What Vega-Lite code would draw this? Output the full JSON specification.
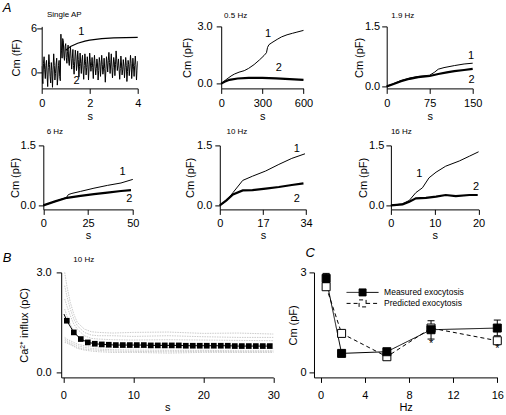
{
"$schema": "https://vega.github.io/schema/vega-lite/v6.json",
"padding": {"left": 2.7, "top": 1.4, "right": 0, "bottom": 0},
"background": "white",
"datasets": {
"a1": [
{"tr":2,"x":0.000,"y":0.8},{"tr":2,"x":0.025,"y":-0.9},{"tr":2,"x":0.050,"y":-1.6},{"tr":2,"x":0.075,"y":1.2},{"tr":2,"x":0.100,"y":2.1},{"tr":2,"x":0.125,"y":0.3},{"tr":2,"x":0.150,"y":-0.9},{"tr":2,"x":0.175,"y":0.9},{"tr":2,"x":0.200,"y":1.6},{"tr":2,"x":0.225,"y":-0.4},{"tr":2,"x":0.250,"y":-2.0},{"tr":2,"x":0.275,"y":0.6},{"tr":2,"x":0.300,"y":2.4},{"tr":2,"x":0.325,"y":1.0},{"tr":2,"x":0.350,"y":-0.6},{"tr":2,"x":0.375,"y":-1.5},{"tr":2,"x":0.400,"y":1.3},{"tr":2,"x":0.425,"y":0.2},{"tr":2,"x":0.450,"y":-2.1},{"tr":2,"x":0.475,"y":0.4},{"tr":2,"x":0.500,"y":2.5},{"tr":2,"x":0.525,"y":0.9},{"tr":2,"x":0.550,"y":-1.1},{"tr":2,"x":0.575,"y":-0.2},{"tr":2,"x":0.600,"y":1.1},{"tr":2,"x":0.625,"y":1.9},{"tr":2,"x":0.650,"y":-1.8},{"tr":2,"x":0.675,"y":-0.7},{"tr":2,"x":0.700,"y":0.9},{"tr":2,"x":0.725,"y":1.6},{"tr":2,"x":0.750,"y":-0.6},{"tr":2,"x":0.775,"y":-1.2},
{"tr":2,"x":0.800,"y":5.2},{"tr":2,"x":0.825,"y":3.0},{"tr":2,"x":0.850,"y":1.9},{"tr":2,"x":0.875,"y":4.6},{"tr":2,"x":0.900,"y":4.3},{"tr":2,"x":0.925,"y":2.2},{"tr":2,"x":0.950,"y":1.6},{"tr":2,"x":0.975,"y":3.5},{"tr":2,"x":1.000,"y":3.9},{"tr":2,"x":1.025,"y":2.0},{"tr":2,"x":1.050,"y":1.2},{"tr":2,"x":1.075,"y":2.8},{"tr":2,"x":1.100,"y":3.7},{"tr":2,"x":1.125,"y":1.5},{"tr":2,"x":1.150,"y":0.9},{"tr":2,"x":1.175,"y":2.6},{"tr":2,"x":1.200,"y":3.4},{"tr":2,"x":1.225,"y":1.8},{"tr":2,"x":1.250,"y":0.4},{"tr":2,"x":1.275,"y":1.9},{"tr":2,"x":1.300,"y":3.1},{"tr":2,"x":1.325,"y":0.9},{"tr":2,"x":1.350,"y":-0.3},{"tr":2,"x":1.375,"y":1.4},{"tr":2,"x":1.400,"y":3.0},{"tr":2,"x":1.425,"y":2.2},{"tr":2,"x":1.450,"y":0.2},{"tr":2,"x":1.475,"y":1.0},{"tr":2,"x":1.500,"y":2.9},{"tr":2,"x":1.525,"y":1.7},{"tr":2,"x":1.550,"y":-0.7},{"tr":2,"x":1.575,"y":0.8},{"tr":2,"x":1.600,"y":2.6},{"tr":2,"x":1.625,"y":1.2},{"tr":2,"x":1.650,"y":-0.2},{"tr":2,"x":1.675,"y":1.5},{"tr":2,"x":1.700,"y":2.3},{"tr":2,"x":1.725,"y":0.4},{"tr":2,"x":1.750,"y":-1.0},{"tr":2,"x":1.775,"y":0.9},{"tr":2,"x":1.800,"y":2.5},{"tr":2,"x":1.825,"y":1.4},{"tr":2,"x":1.850,"y":-0.4},{"tr":2,"x":1.875,"y":0.6},{"tr":2,"x":1.900,"y":2.1},{"tr":2,"x":1.925,"y":1.0},{"tr":2,"x":1.950,"y":-1.1},{"tr":2,"x":1.975,"y":0.7},
{"tr":2,"x":2.000,"y":2.6},{"tr":2,"x":2.025,"y":1.5},{"tr":2,"x":2.050,"y":0.1},{"tr":2,"x":2.075,"y":0.9},{"tr":2,"x":2.100,"y":2.0},{"tr":2,"x":2.125,"y":0.6},{"tr":2,"x":2.150,"y":-0.9},{"tr":2,"x":2.175,"y":1.2},{"tr":2,"x":2.200,"y":2.3},{"tr":2,"x":2.225,"y":0.8},{"tr":2,"x":2.250,"y":-0.4},{"tr":2,"x":2.275,"y":0.5},{"tr":2,"x":2.300,"y":1.8},{"tr":2,"x":2.325,"y":1.1},{"tr":2,"x":2.350,"y":-1.1},{"tr":2,"x":2.375,"y":0.2},{"tr":2,"x":2.400,"y":2.0},{"tr":2,"x":2.425,"y":1.3},{"tr":2,"x":2.450,"y":-0.6},{"tr":2,"x":2.475,"y":0.8},{"tr":2,"x":2.500,"y":2.3},{"tr":2,"x":2.525,"y":1.0},{"tr":2,"x":2.550,"y":-0.3},{"tr":2,"x":2.575,"y":0.4},{"tr":2,"x":2.600,"y":1.9},{"tr":2,"x":2.625,"y":0.5},{"tr":2,"x":2.650,"y":-1.4},{"tr":2,"x":2.675,"y":0.3},{"tr":2,"x":2.700,"y":2.1},{"tr":2,"x":2.725,"y":1.2},{"tr":2,"x":2.750,"y":0.0},{"tr":2,"x":2.775,"y":1.6},{"tr":2,"x":2.800,"y":2.7},{"tr":2,"x":2.825,"y":1.3},{"tr":2,"x":2.850,"y":-0.2},{"tr":2,"x":2.875,"y":1.1},{"tr":2,"x":2.900,"y":2.5},{"tr":2,"x":2.925,"y":0.7},{"tr":2,"x":2.950,"y":-0.8},{"tr":2,"x":2.975,"y":0.6},
{"tr":2,"x":3.000,"y":2.0},{"tr":2,"x":3.025,"y":1.4},{"tr":2,"x":3.050,"y":-0.5},{"tr":2,"x":3.075,"y":1.0},{"tr":2,"x":3.100,"y":2.9},{"tr":2,"x":3.125,"y":1.8},{"tr":2,"x":3.150,"y":0.2},{"tr":2,"x":3.175,"y":0.9},{"tr":2,"x":3.200,"y":1.8},{"tr":2,"x":3.225,"y":0.4},{"tr":2,"x":3.250,"y":-1.0},{"tr":2,"x":3.275,"y":0.5},{"tr":2,"x":3.300,"y":2.2},{"tr":2,"x":3.325,"y":1.1},{"tr":2,"x":3.350,"y":-0.4},{"tr":2,"x":3.375,"y":0.3},{"tr":2,"x":3.400,"y":1.7},{"tr":2,"x":3.425,"y":0.8},{"tr":2,"x":3.450,"y":-0.8},{"tr":2,"x":3.475,"y":0.6},{"tr":2,"x":3.500,"y":2.0},{"tr":2,"x":3.525,"y":0.9},{"tr":2,"x":3.550,"y":-1.3},{"tr":2,"x":3.575,"y":0.1},{"tr":2,"x":3.600,"y":1.6},{"tr":2,"x":3.625,"y":1.0},{"tr":2,"x":3.650,"y":-0.5},{"tr":2,"x":3.675,"y":0.7},{"tr":2,"x":3.700,"y":2.3},{"tr":2,"x":3.725,"y":1.2},{"tr":2,"x":3.750,"y":-0.9},{"tr":2,"x":3.775,"y":0.4},{"tr":2,"x":3.800,"y":1.9},{"tr":2,"x":3.825,"y":0.8},{"tr":2,"x":3.850,"y":-0.6},{"tr":2,"x":3.875,"y":0.9},{"tr":2,"x":3.900,"y":2.2},{"tr":2,"x":3.925,"y":1.0},{"tr":2,"x":3.950,"y":-1.1},{"tr":2,"x":3.975,"y":0.2},{"tr":2,"x":4.000,"y":1.5},
{"tr":1,"x":1.0,"y":3.0},{"tr":1,"x":1.2,"y":3.5},{"tr":1,"x":1.5,"y":3.95},{"tr":1,"x":1.8,"y":4.25},{"tr":1,"x":2.0,"y":4.38},{"tr":1,"x":2.5,"y":4.58},{"tr":1,"x":3.0,"y":4.68},{"tr":1,"x":3.5,"y":4.73},{"tr":1,"x":4.0,"y":4.75}
],
"a2": [
{"tr":1,"x":0,"y":0},{"tr":1,"x":36,"y":0.21},{"tr":1,"x":72,"y":0.4},{"tr":1,"x":96,"y":0.5},{"tr":1,"x":130,"y":0.6},{"tr":1,"x":168,"y":0.68},{"tr":1,"x":200,"y":0.8},{"tr":1,"x":240,"y":1.0},{"tr":1,"x":280,"y":1.25},{"tr":1,"x":312,"y":1.47},{"tr":1,"x":330,"y":1.62},{"tr":1,"x":338,"y":1.9},{"tr":1,"x":348,"y":2.04},{"tr":1,"x":370,"y":2.15},{"tr":1,"x":408,"y":2.32},{"tr":1,"x":440,"y":2.45},{"tr":1,"x":480,"y":2.56},{"tr":1,"x":520,"y":2.64},{"tr":1,"x":552,"y":2.7},{"tr":1,"x":600,"y":2.79},
{"tr":2,"x":0,"y":0},{"tr":2,"x":24,"y":0.1},{"tr":2,"x":60,"y":0.2},{"tr":2,"x":120,"y":0.27},{"tr":2,"x":200,"y":0.3},{"tr":2,"x":300,"y":0.3},{"tr":2,"x":400,"y":0.28},{"tr":2,"x":500,"y":0.24},{"tr":2,"x":600,"y":0.2}
],
"a3": [
{"tr":1,"x":0,"y":0},{"tr":1,"x":12,"y":0.07},{"tr":1,"x":25,"y":0.15},{"tr":1,"x":40,"y":0.21},{"tr":1,"x":55,"y":0.25},{"tr":1,"x":75,"y":0.28},{"tr":1,"x":83,"y":0.35},{"tr":1,"x":90,"y":0.43},{"tr":1,"x":100,"y":0.47},{"tr":1,"x":118,"y":0.52},{"tr":1,"x":135,"y":0.56},{"tr":1,"x":150,"y":0.58},
{"tr":2,"x":0,"y":0},{"tr":2,"x":12,"y":0.06},{"tr":2,"x":25,"y":0.13},{"tr":2,"x":40,"y":0.19},{"tr":2,"x":55,"y":0.23},{"tr":2,"x":75,"y":0.26},{"tr":2,"x":90,"y":0.31},{"tr":2,"x":105,"y":0.35},{"tr":2,"x":118,"y":0.38},{"tr":2,"x":135,"y":0.41},{"tr":2,"x":150,"y":0.44}
],
"a4": [
{"tr":1,"x":0,"y":0},{"tr":1,"x":6.6,"y":0.1},{"tr":1,"x":13,"y":0.2},{"tr":1,"x":14,"y":0.27},{"tr":1,"x":16,"y":0.3},{"tr":1,"x":20.8,"y":0.35},{"tr":1,"x":28.3,"y":0.43},{"tr":1,"x":35.8,"y":0.5},{"tr":1,"x":43.4,"y":0.56},{"tr":1,"x":50,"y":0.65},
{"tr":2,"x":0,"y":0},{"tr":2,"x":6.6,"y":0.1},{"tr":2,"x":13.2,"y":0.19},{"tr":2,"x":20.8,"y":0.24},{"tr":2,"x":28.3,"y":0.28},{"tr":2,"x":35.8,"y":0.32},{"tr":2,"x":43.4,"y":0.36},{"tr":2,"x":49,"y":0.38}
],
"a5": [
{"tr":1,"x":0,"y":0},{"tr":1,"x":2.6,"y":0.11},{"tr":1,"x":5.2,"y":0.32},{"tr":1,"x":9.05,"y":0.625},{"tr":1,"x":12.9,"y":0.73},{"tr":1,"x":18.1,"y":0.86},{"tr":1,"x":23.3,"y":1.025},{"tr":1,"x":28.4,"y":1.175},{"tr":1,"x":33.6,"y":1.29},
{"tr":2,"x":0,"y":0},{"tr":2,"x":2.6,"y":0.125},{"tr":2,"x":5.2,"y":0.275},{"tr":2,"x":9.05,"y":0.375},{"tr":2,"x":12.9,"y":0.38},{"tr":2,"x":18.1,"y":0.42},{"tr":2,"x":23.3,"y":0.46},{"tr":2,"x":28.4,"y":0.51},{"tr":2,"x":33,"y":0.55}
],
"a6": [
{"tr":1,"x":0,"y":0},{"tr":1,"x":2.66,"y":0.04},{"tr":1,"x":4.2,"y":0.125},{"tr":1,"x":5.7,"y":0.32},{"tr":1,"x":7.2,"y":0.44},{"tr":1,"x":8.7,"y":0.69},{"tr":1,"x":10.3,"y":0.83},{"tr":1,"x":12.5,"y":0.98},{"tr":1,"x":15.6,"y":1.11},{"tr":1,"x":17.9,"y":1.23},{"tr":1,"x":20,"y":1.34},
{"tr":2,"x":0,"y":0},{"tr":2,"x":2.66,"y":0.025},{"tr":2,"x":4.2,"y":0.09},{"tr":2,"x":5.7,"y":0.175},{"tr":2,"x":8,"y":0.19},{"tr":2,"x":10.3,"y":0.22},{"tr":2,"x":12.5,"y":0.26},{"tr":2,"x":14.8,"y":0.23},{"tr":2,"x":17.9,"y":0.26},{"tr":2,"x":19.8,"y":0.26}
],
"lbl": [
{"p":"a1","x":1.65,"y":5.5,"t":"1"},{"p":"a1","x":1.45,"y":-1.2,"t":"2"},
{"p":"a2","x":341,"y":2.62,"t":"1"},{"p":"a2","x":420,"y":0.82,"t":"2"},
{"p":"a3","x":147,"y":0.77,"t":"1"},{"p":"a3","x":148,"y":0.17,"t":"2"},
{"p":"a4","x":44.3,"y":0.84,"t":"1"},{"p":"a4","x":48,"y":0.15,"t":"2"},
{"p":"a5","x":30.4,"y":1.42,"t":"1"},{"p":"a5","x":30.4,"y":0.15,"t":"2"},
{"p":"a6","x":6.5,"y":0.78,"t":"1"},{"p":"a6","x":19.4,"y":0.46,"t":"2"}
],
"bg": [
{"id":1,"x":0.2,"y":3.0},{"id":1,"x":0.5,"y":2.6},{"id":1,"x":1,"y":2.1},{"id":1,"x":1.5,"y":1.75},{"id":1,"x":2,"y":1.5},{"id":1,"x":3,"y":1.3},{"id":1,"x":4,"y":1.22},{"id":1,"x":5,"y":1.2},{"id":1,"x":7,"y":1.18},{"id":1,"x":10,"y":1.2},{"id":1,"x":15,"y":1.21},{"id":1,"x":20,"y":1.17},{"id":1,"x":25,"y":1.18},{"id":1,"x":30,"y":1.15},
{"id":2,"x":0.2,"y":2.6},{"id":2,"x":0.5,"y":2.3},{"id":2,"x":1,"y":1.9},{"id":2,"x":1.5,"y":1.6},{"id":2,"x":2,"y":1.4},{"id":2,"x":3,"y":1.2},{"id":2,"x":4,"y":1.12},{"id":2,"x":5,"y":1.1},{"id":2,"x":7,"y":1.1},{"id":2,"x":10,"y":1.08},{"id":2,"x":15,"y":1.1},{"id":2,"x":20,"y":1.07},{"id":2,"x":25,"y":1.05},{"id":2,"x":30,"y":1.05},
{"id":3,"x":0.2,"y":2.2},{"id":3,"x":0.5,"y":2.0},{"id":3,"x":1,"y":1.7},{"id":3,"x":1.5,"y":1.45},{"id":3,"x":2,"y":1.3},{"id":3,"x":3,"y":1.1},{"id":3,"x":4,"y":1.02},{"id":3,"x":5,"y":1.0},{"id":3,"x":7,"y":0.98},{"id":3,"x":10,"y":0.97},{"id":3,"x":15,"y":0.98},{"id":3,"x":20,"y":0.97},{"id":3,"x":25,"y":0.96},{"id":3,"x":30,"y":0.95},
{"id":4,"x":0.2,"y":1.9},{"id":4,"x":0.5,"y":1.7},{"id":4,"x":1,"y":1.45},{"id":4,"x":1.5,"y":1.25},{"id":4,"x":2,"y":1.1},{"id":4,"x":3,"y":0.95},{"id":4,"x":4,"y":0.9},{"id":4,"x":5,"y":0.88},{"id":4,"x":7,"y":0.86},{"id":4,"x":10,"y":0.86},{"id":4,"x":15,"y":0.85},{"id":4,"x":20,"y":0.85},{"id":4,"x":25,"y":0.84},{"id":4,"x":30,"y":0.84},
{"id":5,"x":0.2,"y":1.05},{"id":5,"x":0.5,"y":1.0},{"id":5,"x":1,"y":0.95},{"id":5,"x":1.5,"y":0.9},{"id":5,"x":2,"y":0.85},{"id":5,"x":3,"y":0.8},{"id":5,"x":4,"y":0.78},{"id":5,"x":5,"y":0.76},{"id":5,"x":7,"y":0.75},{"id":5,"x":10,"y":0.74},{"id":5,"x":15,"y":0.74},{"id":5,"x":20,"y":0.73},{"id":5,"x":25,"y":0.73},{"id":5,"x":30,"y":0.72},
{"id":6,"x":0.2,"y":1.0},{"id":6,"x":0.5,"y":0.95},{"id":6,"x":1,"y":0.9},{"id":6,"x":1.5,"y":0.85},{"id":6,"x":2,"y":0.8},{"id":6,"x":3,"y":0.75},{"id":6,"x":4,"y":0.72},{"id":6,"x":5,"y":0.7},{"id":6,"x":7,"y":0.68},{"id":6,"x":10,"y":0.67},{"id":6,"x":15,"y":0.66},{"id":6,"x":20,"y":0.66},{"id":6,"x":25,"y":0.65},{"id":6,"x":30,"y":0.65},
{"id":7,"x":0.2,"y":0.9},{"id":7,"x":0.5,"y":0.88},{"id":7,"x":1,"y":0.83},{"id":7,"x":1.5,"y":0.78},{"id":7,"x":2,"y":0.72},{"id":7,"x":3,"y":0.67},{"id":7,"x":4,"y":0.64},{"id":7,"x":5,"y":0.62},{"id":7,"x":7,"y":0.6},{"id":7,"x":10,"y":0.6},{"id":7,"x":15,"y":0.58},{"id":7,"x":20,"y":0.6},{"id":7,"x":25,"y":0.6},{"id":7,"x":30,"y":0.6},
{"id":8,"x":0.2,"y":0.95},{"id":8,"x":0.5,"y":0.92},{"id":8,"x":1,"y":0.86},{"id":8,"x":1.5,"y":0.8},{"id":8,"x":2,"y":0.75},{"id":8,"x":3,"y":0.7},{"id":8,"x":4,"y":0.68},{"id":8,"x":5,"y":0.66},{"id":8,"x":7,"y":0.64},{"id":8,"x":10,"y":0.63},{"id":8,"x":15,"y":0.62},{"id":8,"x":20,"y":0.63},{"id":8,"x":25,"y":0.62},{"id":8,"x":30,"y":0.62}
],
"bm": [
{"x":0.1,"y":1.75},{"x":0.5,"y":1.55},{"x":1.5,"y":1.2},{"x":2.5,"y":1.0},{"x":3.5,"y":0.9},{"x":4.5,"y":0.86},{"x":5.5,"y":0.84},{"x":6.5,"y":0.83},{"x":7.5,"y":0.82},{"x":8.5,"y":0.82},{"x":9.5,"y":0.82},{"x":10.5,"y":0.82},{"x":11.5,"y":0.82},{"x":12.5,"y":0.81},{"x":13.5,"y":0.81},{"x":14.5,"y":0.81},{"x":15.5,"y":0.81},{"x":16.5,"y":0.81},{"x":17.5,"y":0.8},{"x":18.5,"y":0.8},{"x":19.5,"y":0.8},{"x":20.5,"y":0.8},{"x":21.5,"y":0.8},{"x":22.5,"y":0.8},{"x":23.5,"y":0.8},{"x":24.5,"y":0.79},{"x":25.5,"y":0.79},{"x":26.5,"y":0.79},{"x":27.5,"y":0.79},{"x":28.5,"y":0.79},{"x":29.5,"y":0.79}
],
"cm": [
{"s":"Predicted exocytosis","hz":0.5,"y":2.57},{"s":"Predicted exocytosis","hz":1.9,"y":1.17},{"s":"Predicted exocytosis","hz":6,"y":0.47},{"s":"Predicted exocytosis","hz":10,"y":1.33},{"s":"Predicted exocytosis","hz":16,"y":0.95},
{"s":"Measured exocytosis","hz":0.5,"y":2.82},{"s":"Measured exocytosis","hz":1.9,"y":0.57},{"s":"Measured exocytosis","hz":6,"y":0.62},{"s":"Measured exocytosis","hz":10,"y":1.28},{"s":"Measured exocytosis","hz":16,"y":1.33}
],
"cerr": [
{"hz":0.5,"lo":2.7,"hi":2.97},{"hz":6,"lo":0.55,"hi":0.7},{"hz":10,"lo":1.0,"hi":1.55},{"hz":16,"lo":1.1,"hi":1.57}
],
"cstar": [
{"hz":10,"y":0.84,"t":"*"},{"hz":16,"y":0.7,"t":"*"}
]
},
"resolve": {"scale": {"fill": "independent", "strokeDash": "independent"}, "legend": {"fill": "independent", "strokeDash": "independent"}},
"columns": 1,
"align": "none",
"concat": [
{
"title": {"text": "A", "fontSize": 13, "fontStyle": "italic", "anchor": "start", "frame": "group", "offset": -4, "dx": -39},
"spacing": 39.5,
"hconcat": [
{"width": 96, "height": 62, "title": {"text": "Single AP", "dx": 5.3, "offset": 3.1},
"layer": [
{"data": {"name": "a1"}, "transform": [{"filter": "datum.tr == 2"}], "mark": {"type": "line", "color": "black", "strokeWidth": 1, "clip": true},
"encoding": {"x": {"field": "x", "type": "quantitative", "scale": {"domain": [0, 4], "nice": false, "zero": false}, "axis": {"values": [0, 1, 2, 3, 4], "title": "s", "labelPadding": 4, "titlePadding": 2}},
"y": {"field": "y", "type": "quantitative", "scale": {"domain": [-2.25, 6.27], "nice": false, "zero": false}, "axis": {"values": [0, 3, 6], "title": "Cm (fF)", "labelPadding": 0, "titlePadding": 8.6}}}},
{"data": {"name": "a1"}, "transform": [{"filter": "datum.tr == 1"}], "mark": {"type": "line", "color": "black", "strokeWidth": 1.2},
"encoding": {"x": {"field": "x", "type": "quantitative"}, "y": {"field": "y", "type": "quantitative"}}},
{"data": {"name": "lbl"}, "transform": [{"filter": "datum.p == 'a1'"}], "mark": {"type": "text", "fontSize": 11, "font": "Liberation Sans"},
"encoding": {"x": {"field": "x", "type": "quantitative"}, "y": {"field": "y", "type": "quantitative"}, "text": {"field": "t"}}}
]},
{"width": 82.3, "height": 62, "title": {"text": "0.5 Hz", "dx": 2.9, "offset": 0.5},
"layer": [
{"data": {"name": "a2"}, "transform": [{"filter": "datum.tr == 1"}], "mark": {"type": "line", "color": "black", "strokeWidth": 1},
"encoding": {"x": {"field": "x", "type": "quantitative", "scale": {"domain": [0, 600], "nice": false, "zero": false}, "axis": {"values": [0, 300, 600], "title": "s", "labelPadding": 4, "titlePadding": 2}},
"y": {"field": "y", "type": "quantitative", "scale": {"domain": [-0.25, 3], "nice": false, "zero": false}, "axis": {"values": [0, 1, 2, 3], "format": ".1f", "title": "Cm (pF)", "labelPadding": 4, "titlePadding": 4}}}},
{"data": {"name": "a2"}, "transform": [{"filter": "datum.tr == 2"}], "mark": {"type": "line", "color": "black", "strokeWidth": 2.2},
"encoding": {"x": {"field": "x", "type": "quantitative"}, "y": {"field": "y", "type": "quantitative"}}},
{"data": {"name": "lbl"}, "transform": [{"filter": "datum.p == 'a2'"}], "mark": {"type": "text", "fontSize": 11, "font": "Liberation Sans"},
"encoding": {"x": {"field": "x", "type": "quantitative"}, "y": {"field": "y", "type": "quantitative"}, "text": {"field": "t"}}}
]},
{"width": 86, "height": 62, "title": {"text": "1.9 Hz", "dx": 4.6, "offset": 0.5},
"layer": [
{"data": {"name": "a3"}, "transform": [{"filter": "datum.tr == 1"}], "mark": {"type": "line", "color": "black", "strokeWidth": 1},
"encoding": {"x": {"field": "x", "type": "quantitative", "scale": {"domain": [0, 150], "nice": false, "zero": false}, "axis": {"values": [0, 75, 150], "title": "s", "labelPadding": 4, "titlePadding": 2}},
"y": {"field": "y", "type": "quantitative", "scale": {"domain": [-0.05, 1.5], "nice": false, "zero": false}, "axis": {"values": [0, 0.5, 1, 1.5], "format": ".1f", "title": "Cm (pF)", "labelPadding": 2, "titlePadding": 0}}}},
{"data": {"name": "a3"}, "transform": [{"filter": "datum.tr == 2"}], "mark": {"type": "line", "color": "black", "strokeWidth": 2.2},
"encoding": {"x": {"field": "x", "type": "quantitative"}, "y": {"field": "y", "type": "quantitative"}}},
{"data": {"name": "lbl"}, "transform": [{"filter": "datum.p == 'a3'"}], "mark": {"type": "text", "fontSize": 11, "font": "Liberation Sans"},
"encoding": {"x": {"field": "x", "type": "quantitative"}, "y": {"field": "y", "type": "quantitative"}, "text": {"field": "t"}}}
]}
]
},
{
"spacing": 44.1,
"hconcat": [
{"width": 91.1, "height": 64, "title": {"text": "6 Hz", "dx": 5, "offset": 3.8},
"layer": [
{"data": {"name": "a4"}, "transform": [{"filter": "datum.tr == 1"}], "mark": {"type": "line", "color": "black", "strokeWidth": 1},
"encoding": {"x": {"field": "x", "type": "quantitative", "scale": {"domain": [0, 50], "nice": false, "zero": false, "range": [1.6, 91.1]}, "axis": {"values": [0, 25, 50], "title": "s", "titlePadding": 1}},
"y": {"field": "y", "type": "quantitative", "scale": {"domain": [-0.1, 1.5], "nice": false, "zero": false}, "axis": {"values": [0, 0.5, 1, 1.5], "format": ".1f", "title": "Cm (pF)", "labelPadding": 3, "titlePadding": 0, "offset": -1.6}}}},
{"data": {"name": "a4"}, "transform": [{"filter": "datum.tr == 2"}], "mark": {"type": "line", "color": "black", "strokeWidth": 2.2},
"encoding": {"x": {"field": "x", "type": "quantitative"}, "y": {"field": "y", "type": "quantitative"}}},
{"data": {"name": "lbl"}, "transform": [{"filter": "datum.p == 'a4'"}], "mark": {"type": "text", "fontSize": 11, "font": "Liberation Sans"},
"encoding": {"x": {"field": "x", "type": "quantitative"}, "y": {"field": "y", "type": "quantitative"}, "text": {"field": "t"}}}
]},
{"width": 86.2, "height": 64, "title": {"text": "10 Hz", "dx": 6.7, "offset": 3.8},
"layer": [
{"data": {"name": "a5"}, "transform": [{"filter": "datum.tr == 1"}], "mark": {"type": "line", "color": "black", "strokeWidth": 1},
"encoding": {"x": {"field": "x", "type": "quantitative", "scale": {"domain": [0, 34], "nice": false, "zero": false}, "axis": {"values": [0, 17, 34], "title": "s", "titlePadding": 1}},
"y": {"field": "y", "type": "quantitative", "scale": {"domain": [-0.1, 1.5], "nice": false, "zero": false}, "axis": {"values": [0, 0.5, 1, 1.5], "format": ".1f", "title": "Cm (pF)", "titlePadding": 1}}}},
{"data": {"name": "a5"}, "transform": [{"filter": "datum.tr == 2"}], "mark": {"type": "line", "color": "black", "strokeWidth": 2.2},
"encoding": {"x": {"field": "x", "type": "quantitative"}, "y": {"field": "y", "type": "quantitative"}}},
{"data": {"name": "lbl"}, "transform": [{"filter": "datum.p == 'a5'"}], "mark": {"type": "text", "fontSize": 11, "font": "Liberation Sans"},
"encoding": {"x": {"field": "x", "type": "quantitative"}, "y": {"field": "y", "type": "quantitative"}, "text": {"field": "t"}}}
]},
{"width": 87.7, "height": 64, "title": {"text": "16 Hz", "dx": 0, "offset": 3.8},
"layer": [
{"data": {"name": "a6"}, "transform": [{"filter": "datum.tr == 1"}], "mark": {"type": "line", "color": "black", "strokeWidth": 1},
"encoding": {"x": {"field": "x", "type": "quantitative", "scale": {"domain": [0, 20], "nice": false, "zero": false}, "axis": {"values": [0, 10, 20], "title": "s", "titlePadding": 1}},
"y": {"field": "y", "type": "quantitative", "scale": {"domain": [-0.1, 1.5], "nice": false, "zero": false}, "axis": {"values": [0, 0.5, 1, 1.5], "format": ".1f", "title": "Cm (pF)", "labelPadding": 2, "titlePadding": 0}}}},
{"data": {"name": "a6"}, "transform": [{"filter": "datum.tr == 2"}], "mark": {"type": "line", "color": "black", "strokeWidth": 2.2},
"encoding": {"x": {"field": "x", "type": "quantitative"}, "y": {"field": "y", "type": "quantitative"}}},
{"data": {"name": "lbl"}, "transform": [{"filter": "datum.p == 'a6'"}], "mark": {"type": "text", "fontSize": 11, "font": "Liberation Sans"},
"encoding": {"x": {"field": "x", "type": "quantitative"}, "y": {"field": "y", "type": "quantitative"}, "text": {"field": "t"}}}
]}
]
},
{
"title": {"text": "B", "fontSize": 13, "fontStyle": "italic", "anchor": "start", "frame": "group", "offset": -18.1, "dx": -39},
"spacing": 7.3,
"resolve": {"scale": {"fill": "independent", "strokeDash": "independent"}, "legend": {"fill": "independent", "strokeDash": "independent"}},
"hconcat": [
{"width": 231.6, "height": 105, "title": {"text": "10 Hz", "dx": 31.6, "offset": 2.8},
"layer": [
{"data": {"name": "bg"}, "mark": {"type": "line", "color": "#bdbdbd", "strokeWidth": 0.8, "strokeDash": [1.5, 1]},
"encoding": {"x": {"field": "x", "type": "quantitative", "scale": {"domain": [-0.3, 30], "nice": false, "zero": false, "range": [19.5, 231.6]}, "axis": {"values": [0, 10, 20, 30], "title": "s", "labelPadding": 7, "titlePadding": 1}},
"y": {"field": "y", "type": "quantitative", "scale": {"domain": [-0.15, 3], "nice": false, "zero": false}, "axis": {"values": [0, 1, 2, 3], "format": ".1f", "title": "Ca²⁺ influx (pC)", "labelPadding": 5, "titlePadding": 6.9, "offset": -19.5}},
"detail": {"field": "id", "type": "nominal"}}},
{"data": {"name": "bm"}, "mark": {"type": "line", "color": "black", "strokeWidth": 1},
"encoding": {"x": {"field": "x", "type": "quantitative"}, "y": {"field": "y", "type": "quantitative"}}},
{"data": {"name": "bm"}, "transform": [{"filter": "datum.x >= 0.5"}], "mark": {"type": "point", "shape": "square", "filled": true, "color": "black", "size": 32, "opacity": 1},
"encoding": {"x": {"field": "x", "type": "quantitative"}, "y": {"field": "y", "type": "quantitative"}}}
]},
{"width": 183.3, "height": 105, "title": {"text": "C", "fontSize": 13, "fontStyle": "italic", "dx": -8.4, "offset": 6.2},
"layer": [
{"data": {"name": "cm"}, "mark": {"type": "line", "color": "black", "strokeWidth": 1},
"encoding": {"x": {"field": "hz", "type": "quantitative", "scale": {"domain": [-0.6, 16], "nice": false, "zero": false}, "axis": {"values": [0, 4, 8, 12, 16], "title": "Hz", "labelPadding": 7, "titlePadding": 1}},
"y": {"field": "y", "type": "quantitative", "scale": {"domain": [-0.15, 3], "nice": false, "zero": false}, "axis": {"values": [0, 1, 2, 3], "format": "d", "title": "Cm (pF)", "labelPadding": 3, "titlePadding": 1.6}},
"strokeDash": {"field": "s", "type": "nominal", "scale": {"domain": ["Measured exocytosis", "Predicted exocytosis"], "range": [[1, 0], [4, 3]]},
"legend": {"title": null, "orient": "none", "legendX": 43.1, "legendY": 14.5, "symbolType": "M-3.2,0H-0.7M0.7,0H3.2M-0.7,-0.7H0.7V0.7H-0.7Z", "symbolSize": 100, "symbolStrokeColor": "black", "symbolStrokeWidth": 1, "labelFontSize": 8.5, "labelOffset": 16, "rowPadding": 0, "padding": 0}}}},
{"data": {"name": "cerr"}, "mark": {"type": "rule", "color": "black", "strokeWidth": 1},
"encoding": {"x": {"field": "hz", "type": "quantitative"}, "y": {"field": "lo", "type": "quantitative"}, "y2": {"field": "hi"}}},
{"data": {"name": "cerr"}, "mark": {"type": "tick", "color": "black", "orient": "horizontal", "size": 7, "thickness": 1, "opacity": 1},
"encoding": {"x": {"field": "hz", "type": "quantitative"}, "y": {"field": "hi", "type": "quantitative"}}},
{"data": {"name": "cerr"}, "mark": {"type": "tick", "color": "black", "orient": "horizontal", "size": 7, "thickness": 1, "opacity": 1},
"encoding": {"x": {"field": "hz", "type": "quantitative"}, "y": {"field": "lo", "type": "quantitative"}}},
{"data": {"name": "cm"}, "mark": {"type": "point", "shape": "square", "filled": true, "stroke": "black", "strokeWidth": 1, "size": 64, "opacity": 1},
"encoding": {"x": {"field": "hz", "type": "quantitative"}, "y": {"field": "y", "type": "quantitative"},
"fill": {"field": "s", "type": "nominal", "scale": {"domain": ["Measured exocytosis", "Predicted exocytosis"], "range": ["black", "white"]},
"legend": {"title": null, "orient": "none", "legendX": 43.1, "legendY": 14.5, "symbolType": "M-3.2,0H-0.7M0.7,0H3.2M-0.7,-0.7H0.7V0.7H-0.7Z", "symbolSize": 100, "symbolStrokeColor": "black", "symbolStrokeWidth": 1, "labelFontSize": 8.5, "labelOffset": 16, "rowPadding": 0, "padding": 0}}}},
{"data": {"name": "cstar"}, "mark": {"type": "text", "fontSize": 11, "font": "Liberation Sans", "baseline": "middle"},
"encoding": {"x": {"field": "hz", "type": "quantitative"}, "y": {"field": "y", "type": "quantitative"}, "text": {"field": "t"}}}
]}
]
}
],
"spacing": 6,
"config": {
"font": "Liberation Sans",
"view": {"stroke": null},
"axis": {"grid": false, "domainColor": "black", "tickColor": "black", "labelColor": "black", "titleColor": "black", "labelFontSize": 11, "titleFontSize": 11, "titleFontWeight": "normal", "tickSize": 5, "labelPadding": 3, "titlePadding": 5, "labelFont": "Liberation Sans", "titleFont": "Liberation Sans", "labelFlush": false, "labelOverlap": false, "domainWidth": 1, "tickWidth": 1},
"title": {"fontSize": 8, "fontWeight": "normal", "anchor": "start", "frame": "group", "font": "Liberation Sans", "color": "black", "offset": 3},
"legend": {"labelFont": "Liberation Sans", "labelColor": "black"}
}
}
